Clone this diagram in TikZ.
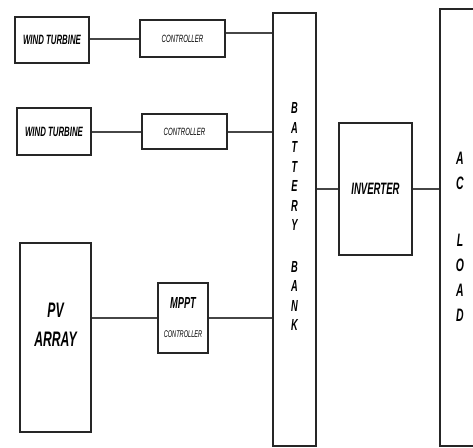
\documentclass[tikz,border=0pt]{standalone}
\usepackage{fontspec}
\setmainfont{Liberation Sans}[FakeStretch=0.58]
\usetikzlibrary{positioning}
\definecolor{wiregray}{RGB}{70,70,70}
\newcommand{\fsz}[2]{\fontsize{#1}{#2}\selectfont\bfseries\itshape}

\begin{document}
\begin{tikzpicture}[x=1pt, y=-1pt,
    blk/.style={rectangle, draw=black!85, line width=2.3pt, inner sep=0pt,
        align=center},
    lbl/.style={inner sep=0pt, align=center},
    wire/.style={line width=2pt, wiregray}
]
    \useasboundingbox (0,0) rectangle (473,447);
    % sources
    \node[blk, minimum width=74pt, minimum height=46pt, font=\fsz{13.5}{15}] (wt1) at (52,40) {WIND TURBINE};
    \node[blk, minimum width=85pt, minimum height=37pt, font=\fsz{10.5}{12}\mdseries] (ctl1) at (182.5,38.5) {CONTROLLER};
    \node[blk, minimum width=74pt, minimum height=47pt, font=\fsz{13.5}{15}] (wt2) at (54,131.5) {WIND TURBINE};
    \node[blk, minimum width=85pt, minimum height=35pt, font=\fsz{10.5}{12}\mdseries] (ctl2) at (184.5,131.5) {CONTROLLER};
    \node[blk, minimum width=71pt, minimum height=189pt] (pv) at (55.5,337.5) {};
    \node[lbl, font=\fsz{21}{29}] (pvlbl) at (55.5,325) {PV\\ARRAY};
    \node[blk, minimum width=50pt, minimum height=70pt, font=\fsz{16}{29}] (mppt) at (183,318)
        {MPPT\\{\fsz{9.7}{12}\mdseries CONTROLLER}};
    % storage and load
    \node[blk, minimum width=43pt, minimum height=433pt] (batt) at (294.5,229.5) {};
    \node[lbl, font=\fsz{16}{19.5}] (battlbl) at (294.5,216.5)
        {B\\A\\T\\T\\E\\R\\Y\\[22pt]B\\A\\N\\K};
    \node[blk, minimum width=73pt, minimum height=132pt, font=\fsz{16.5}{19}] (inv) at (375.5,189) {INVERTER};
    \node[blk, minimum width=40pt, minimum height=437pt] (load) at (460,227.5) {};
    \node[lbl, font=\fsz{18}{25}] (loadlbl) at (460,236.5) {A\\C\\[32pt]L\\O\\A\\D};

    \draw[wire] (wt1.east |- ctl1.west) -- (ctl1.west);
    \draw[wire] ([yshift=5.5pt]ctl1.east) -- ([yshift=5.5pt]ctl1.east -| batt.west);
    \draw[wire] (wt2.east) -- (ctl2.west);
    \draw[wire] (ctl2.east) -- (ctl2.east -| batt.west);
    \draw[wire] (pv.east |- mppt.west) -- (mppt.west);
    \draw[wire] (mppt.east) -- (mppt.east -| batt.west);
    \draw[wire] (batt.east |- inv.west) -- (inv.west);
    \draw[wire] (inv.east) -- (inv.east -| load.west);
\end{tikzpicture}
\end{document}
